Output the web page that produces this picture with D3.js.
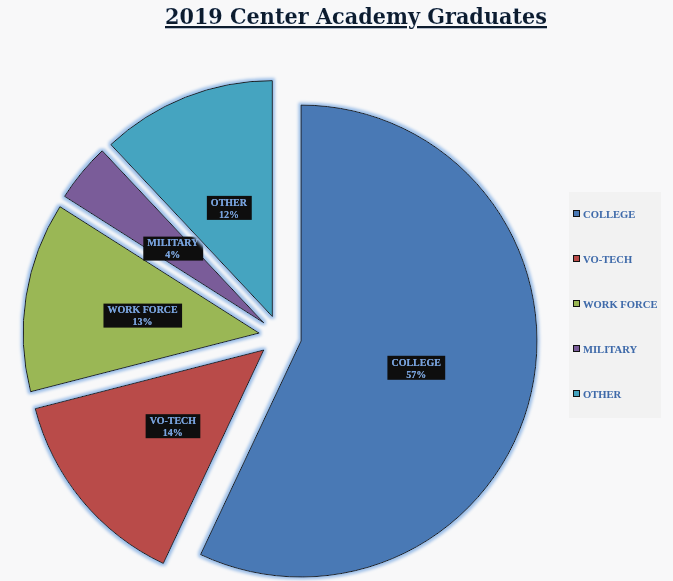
<!DOCTYPE html>
<html>
<head>
<meta charset="utf-8">
<script src="https://cdn.jsdelivr.net/npm/d3@7"></script>
<style>
  body { margin: 0; background: #f8f8f9; }
  svg { display: block; }
</style>
</head>
<body>
<div id="chart"></div>
<script>
// chart data
var categories = ['COLLEGE', 'VO-TECH', 'WORK FORCE', 'MILITARY', 'OTHER'];
var percents = [57, 14, 13, 4, 12];
var slice_colors = ['#4a79b5', '#b94b48', '#9ab754', '#7a5c99', '#45a4c0'];
var chart_title = '2019 Center Academy Graduates';

var width = 673, height = 581;
var serif = '"DejaVu Serif", "Liberation Serif", serif';
var label_font = '"Liberation Serif", "DejaVu Serif", serif';

var svg = d3.select('#chart')
  .append('svg')
  .attr('width', width)
  .attr('height', height);

svg.append('rect')
  .attr('width', width)
  .attr('height', height)
  .style('fill', '#f8f8f9');

// glow filters
var defs = svg.append('defs');

var glow = defs.append('filter')
  .attr('id', 'slice-glow')
  .attr('x', '-10%').attr('y', '-10%')
  .attr('width', '120%').attr('height', '120%');
glow.append('feMorphology')
  .attr('in', 'SourceAlpha').attr('operator', 'dilate').attr('radius', 2)
  .attr('result', 'fat');
glow.append('feGaussianBlur')
  .attr('in', 'fat').attr('stdDeviation', 1.8).attr('result', 'blur');
glow.append('feFlood').attr('flood-color', '#9dbfe8').attr('result', 'col');
glow.append('feComposite')
  .attr('in', 'col').attr('in2', 'blur').attr('operator', 'in').attr('result', 'halo');
var gm = glow.append('feMerge');
gm.append('feMergeNode').attr('in', 'halo');
gm.append('feMergeNode').attr('in', 'SourceGraphic');

var tglow = defs.append('filter')
  .attr('id', 'text-glow')
  .attr('x', '-20%').attr('y', '-40%')
  .attr('width', '140%').attr('height', '180%');
tglow.append('feGaussianBlur')
  .attr('in', 'SourceAlpha').attr('stdDeviation', 0.6).attr('result', 'blur');
tglow.append('feFlood').attr('flood-color', '#9dbfe8').attr('flood-opacity', 0.7).attr('result', 'col');
tglow.append('feComposite')
  .attr('in', 'col').attr('in2', 'blur').attr('operator', 'in').attr('result', 'halo');
var tm = tglow.append('feMerge');
tm.append('feMergeNode').attr('in', 'halo');
tm.append('feMergeNode').attr('in', 'SourceGraphic');

// title
svg.append('text')
  .attr('x', 356)
  .attr('y', 24)
  .attr('text-anchor', 'middle')
  .attr('textLength', 382)
  .attr('lengthAdjust', 'spacingAndGlyphs')
  .style('font-family', serif)
  .style('font-weight', 'bold')
  .style('font-size', '23px')
  .style('fill', '#111c2e')
  .style('text-decoration', 'underline')
  .attr('filter', 'url(#text-glow)')
  .text(chart_title);

// pie
var cx = 280.2, cy = 336.4, radius = 236, explode = 21.3;

var pie = d3.pie().sort(null).value(function(d){ return d; });
var arcs = pie(percents);

var arc = d3.arc().innerRadius(0).outerRadius(radius);

var pie_g = svg.append('g')
  .attr('transform', 'translate(' + cx + ',' + cy + ')');

var slice = pie_g.selectAll('g.slice')
  .data(arcs)
  .enter()
  .append('g')
  .attr('class', 'slice')
  .attr('transform', function(d){
    var mid = (d.startAngle + d.endAngle) / 2;
    return 'translate(' + (Math.sin(mid) * explode) + ',' + (-Math.cos(mid) * explode) + ')';
  });

slice.append('path')
  .attr('d', arc)
  .style('fill', function(d, i){ return slice_colors[i]; })
  .style('stroke', '#1a1a1a')
  .style('stroke-width', 1)
  .style('stroke-linejoin', 'miter')
  .attr('filter', 'url(#slice-glow)');

// data labels: black box, two lines
var label = slice.append('g')
  .attr('transform', function(d){
    var c = arc.centroid(d);
    return 'translate(' + c[0] + ',' + (c[1] + 1) + ')';
  });

label.each(function(d, i){
  var g = d3.select(this);
  var txt = g.append('text')
    .attr('text-anchor', 'middle')
    .style('font-family', label_font)
    .style('font-weight', 'bold')
    .style('font-size', '10px')
    .style('fill', '#74a1df')
    .attr('filter', 'url(#text-glow)');
  txt.append('tspan').attr('x', 0).attr('y', -2.2).text(categories[i]);
  txt.append('tspan').attr('x', 0).attr('y', 9.8).text(percents[i] + '%');
  var bb = txt.node().getBBox();
  g.insert('rect', 'text')
    .attr('x', bb.x - 4)
    .attr('y', -12)
    .attr('width', bb.width + 8)
    .attr('height', 24)
    .style('fill', '#0e0e0e');
});

// legend
var legend_g = svg.append('g');

legend_g.append('rect')
  .attr('x', 569)
  .attr('y', 192)
  .attr('width', 92)
  .attr('height', 226)
  .style('fill', '#f2f2f2');

var legend_y = d3.scalePoint()
  .domain(categories)
  .range([214, 394]);

var item = legend_g.selectAll('g.item')
  .data(categories)
  .enter()
  .append('g')
  .attr('class', 'item')
  .attr('transform', function(d){ return 'translate(573,' + legend_y(d) + ')'; });

item.append('rect')
  .attr('x', 0.5)
  .attr('y', -3.5)
  .attr('width', 6)
  .attr('height', 6)
  .style('fill', function(d, i){ return slice_colors[i]; })
  .style('stroke', '#111')
  .style('stroke-width', 1);

item.append('text')
  .attr('x', 10)
  .attr('y', 3.8)
  .style('font-family', label_font)
  .style('font-weight', 'bold')
  .style('font-size', '10.6px')
  .style('fill', '#3f6aa8')
  .attr('filter', 'url(#text-glow)')
  .text(function(d){ return d; });
</script>
</body>
</html>
